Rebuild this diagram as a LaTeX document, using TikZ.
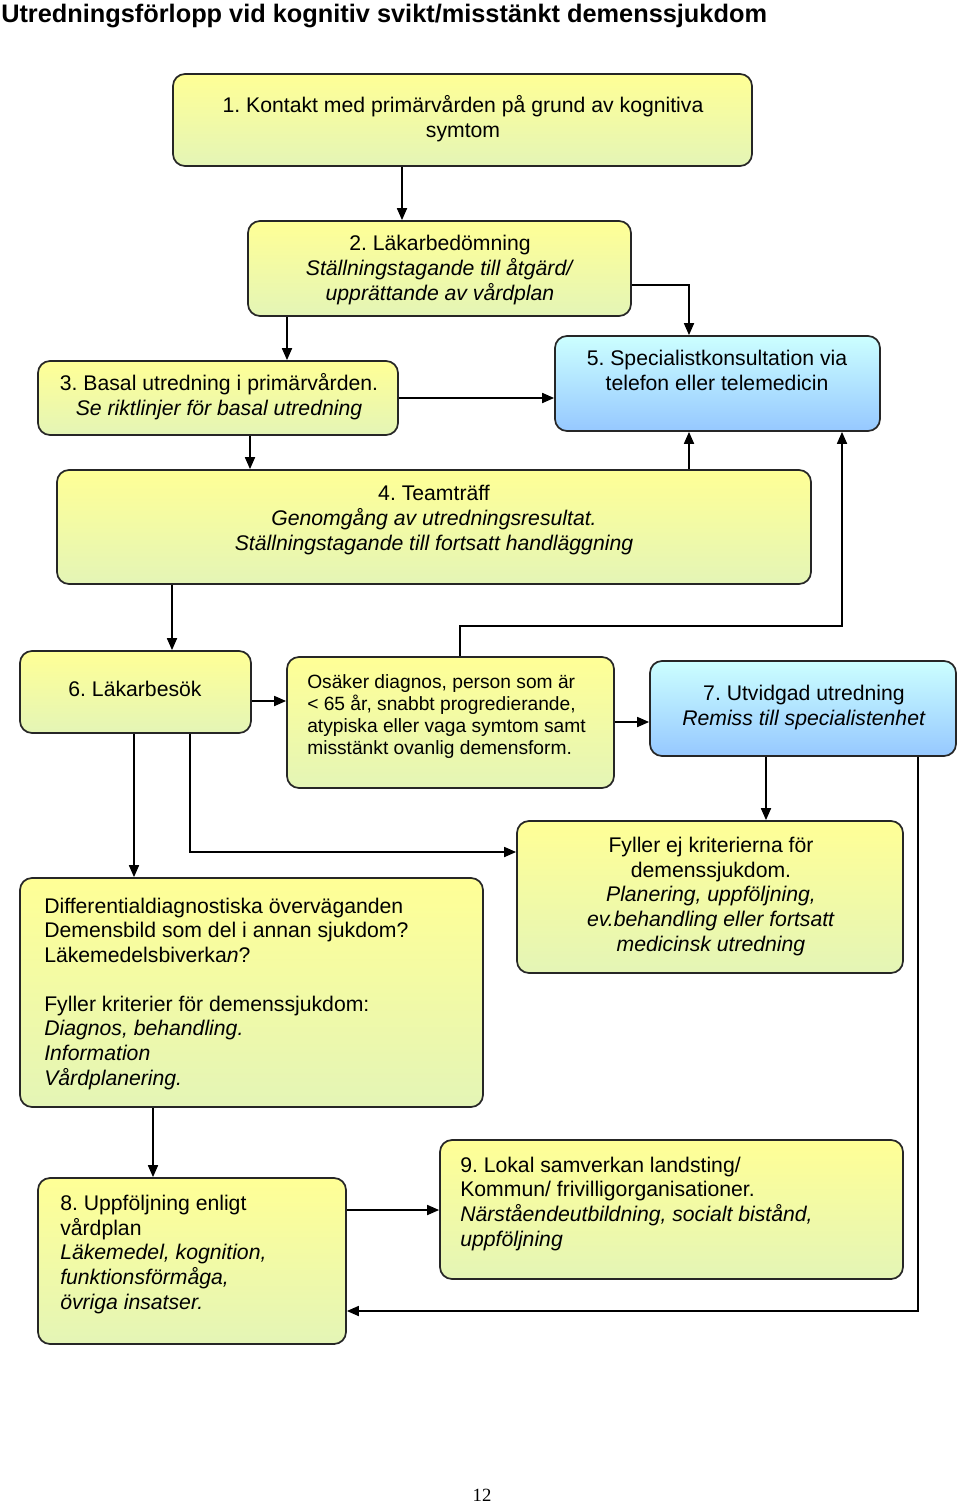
\documentclass[tikz,border=0pt]{standalone}
\usepackage{fontspec}
\setmainfont{Liberation Sans}
\newfontfamily\pagefont{Liberation Serif}
\usetikzlibrary{arrows.meta,fit}
\frenchspacing
\definecolor{ytop}{RGB}{255,255,150}
\definecolor{ybot}{RGB}{228,245,182}
\definecolor{btop}{RGB}{204,255,255}
\definecolor{bbot}{RGB}{150,200,255}
\tikzset{
  ybox/.style={draw=black!85, line width=1.3pt, rounded corners=9pt, top color=ytop, bottom color=ybot, inner sep=0pt},
  bbox/.style={ybox, top color=btop, bottom color=bbot},
  conn/.style={line width=1.3pt, -{Triangle[length=9pt,width=7.5pt]}},
  txt/.style={font=\fontsize{15.9}{18.4}\selectfont, inner sep=0pt, align=center, anchor=base},
  ltxt/.style={txt, align=left, anchor=base west},
  stxt/.style={ltxt, font=\fontsize{14.4}{16.5}\selectfont},
}
\begin{document}
\begin{tikzpicture}[x=0.75pt,y=-0.75pt]
\useasboundingbox (0,0) rectangle (960,1503);
\node[anchor=base west, inner sep=0pt, font=\fontsize{19}{22}\selectfont\bfseries] (title) at (1,22) {Utredningsförlopp vid kognitiv svikt/misstänkt demenssjukdom};

\node[ybox, fit={(173,74) (752,166)}] (b1) {};
\node[ybox, fit={(248,221) (631,316)}] (b2) {};
\node[ybox, fit={(38,361) (398,435)}] (b3) {};
\node[bbox, fit={(555,336) (880,431)}] (b5) {};
\node[ybox, fit={(57,470) (811,584)}] (b4) {};
\node[ybox, fit={(20,651) (251,733)}] (b6) {};
\node[ybox, fit={(287,657) (614,788)}] (os) {};
\node[bbox, fit={(650,661) (956,756)}] (b7) {};
\node[ybox, fit={(517,821) (903,973)}] (fe) {};
\node[ybox, fit={(20,878) (483,1107)}] (df) {};
\node[ybox, fit={(38,1178) (346,1344)}] (b8) {};
\node[ybox, fit={(440,1140) (903,1279)}] (b9) {};

\node[txt] (t1) at (463,137) {1. Kontakt med primärvården på grund av kognitiva\\symtom};
\node[txt] (t2) at (440,300) {2. Läkarbedömning\\\textit{Ställningstagande till åtgärd/}\\\textit{upprättande av vårdplan}};
\node[txt] (t3) at (219,415) {3. Basal utredning i primärvården.\\\textit{Se riktlinjer för basal utredning}};
\node[txt] (t5) at (717,390) {5. Specialistkonsultation via\\telefon eller telemedicin};
\node[txt] (t4) at (434,550) {4. Teamträff\\\textit{Genomgång av utredningsresultat.}\\\textit{Ställningstagande till fortsatt handläggning}};
\node[txt] (t6) at (135,696) {6. Läkarbesök};
\node[stxt] (tos) at (307,754) {Osäker diagnos, person som är\\< 65 år, snabbt progredierande,\\atypiska eller vaga symtom samt\\misstänkt ovanlig demensform.};
\node[txt] (t7) at (804,725) {7. Utvidgad utredning\\\textit{Remiss till specialistenhet}};
\node[txt] (tfe) at (711,951) {Fyller ej kriterierna för\\demenssjukdom.\\\textit{Planering, uppföljning,}\\\textit{ev.behandling eller fortsatt}\\\textit{medicinsk utredning}};
\node[ltxt] (tdf) at (44,1085) {Differentialdiagnostiska överväganden\\Demensbild som del i annan sjukdom?\\Läkemedelsbiverka\textit{n}?\\[18.4pt]Fyller kriterier för demenssjukdom:\\\textit{Diagnos, behandling.}\\\textit{Information}\\\textit{Vårdplanering.}};
\node[ltxt] (t8) at (60,1309) {8. Uppföljning enligt\\vårdplan\\\textit{Läkemedel, kognition,}\\\textit{funktionsförmåga,}\\\textit{övriga insatser.}};
\node[ltxt] (t9) at (460,1246) {9. Lokal samverkan landsting/\\Kommun/ frivilligorganisationer.\\\textit{Närståendeutbildning, socialt bistånd,}\\\textit{uppföljning}};
\node[anchor=base, inner sep=0pt, font=\pagefont\fontsize{14}{16}\selectfont] (pg) at (482,1501) {12};

\draw[conn] (b1.south -| 402,0) -- (b2.north -| 402,0);
\draw[conn] (b2.south -| 287,0) -- (b3.north -| 287,0);
\draw[conn] (b2.east |- 0,285) -| (b5.north -| 689,0);
\draw[conn] (b3.east |- 0,398) -- (b5.west |- 0,398);
\draw[conn] (b3.south -| 250,0) -- (b4.north -| 250,0);
\draw[conn] (b4.north -| 689,0) -- (b5.south -| 689,0);
\draw[conn] (os.north -| 460,0) -- (460,626) -| (b5.south -| 842,0);
\draw[conn] (b4.south -| 172,0) -- (b6.north -| 172,0);
\draw[conn] (b6.east |- 0,701) -- (os.west |- 0,701);
\draw[conn] (os.east |- 0,722) -- (b7.west |- 0,722);
\draw[conn] (b6.south -| 134,0) -- (df.north -| 134,0);
\draw[conn] (b6.south -| 190,0) |- (fe.west |- 0,852);
\draw[conn] (b7.south -| 766,0) -- (fe.north -| 766,0);
\draw[conn] (b7.south -| 918,0) |- (b8.east |- 0,1311);
\draw[conn] (df.south -| 153,0) -- (b8.north -| 153,0);
\draw[conn] (b8.east |- 0,1210) -- (b9.west |- 0,1210);
\end{tikzpicture}
\end{document}
